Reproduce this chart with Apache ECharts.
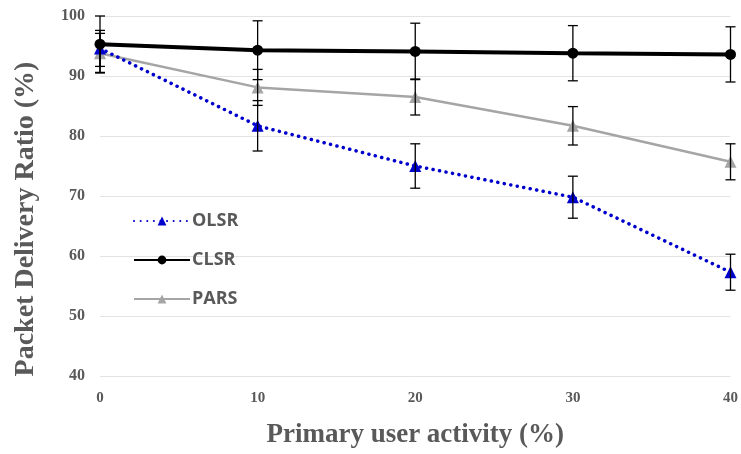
<!DOCTYPE html>
<html>
<head>
<meta charset="utf-8">
<script src="https://cdn.jsdelivr.net/npm/echarts@6/dist/echarts.min.js"></script>
<style>html,body{margin:0;padding:0;background:#fff;}#c{width:741px;height:454px;}</style>
</head>
<body>
<div id="c"></div>
<script>
var xValues = [0, 10, 20, 30, 40];
var olsr = [94.6, 81.7, 75.0, 69.8, 57.3];
var olsrErr = [3.0, 4.2, 3.7, 3.5, 3.0];
var clsr = [95.3, 94.3, 94.1, 93.8, 93.6];
var clsrErr = [4.7, 4.9, 4.7, 4.6, 4.6];
var pars = [93.8, 88.1, 86.5, 81.7, 75.7];
var parsErr = [3.3, 3.0, 3.0, 3.2, 3.0];
var yTicks = [40, 50, 60, 70, 80, 90, 100];
var xTicks = [0, 10, 20, 30, 40];

function pairs(vals) { return xValues.map(function (x, i) { return [x, vals[i]]; }); }
function errData(vals, errs) { return xValues.map(function (x, i) { return [x, vals[i] - errs[i], vals[i] + errs[i]]; }); }

function errRender(params, api) {
  var x = api.value(0);
  var lo = api.coord([x, api.value(1)]);
  var hi = api.coord([x, api.value(2)]);
  var w = 5;
  var st = { stroke: '#000', lineWidth: 1.3, fill: null };
  return {
    type: 'group',
    children: [
      { type: 'line', shape: { x1: hi[0], y1: hi[1], x2: lo[0], y2: lo[1] }, style: st },
      { type: 'line', shape: { x1: hi[0] - w, y1: hi[1], x2: hi[0] + w, y2: hi[1] }, style: st },
      { type: 'line', shape: { x1: lo[0] - w, y1: lo[1], x2: lo[0] + w, y2: lo[1] }, style: st }
    ]
  };
}

var chart = echarts.init(document.getElementById('c'));
var serif = '"Liberation Serif", "Times New Roman", serif';
chart.setOption({
  animation: false,
  backgroundColor: '#fff',
  grid: { left: 100, right: 10, top: 16, bottom: 76 },
  legend: {
    orient: 'vertical',
    left: 128,
    top: 207,
    itemWidth: 56,
    itemHeight: 11,
    itemGap: 21,
    data: ['OLSR', 'CLSR', 'PARS'],
    textStyle: { fontFamily: '"Open Sans", "Liberation Sans", sans-serif', fontWeight: 'bold', fontSize: 18, lineHeight: 18, color: '#595959', padding: [0, 0, 0, -3] }
  },
  xAxis: {
    type: 'value', min: 0, max: 40, interval: 10,
    name: 'Primary user activity (%)', nameLocation: 'middle', nameGap: 46,
    nameTextStyle: { fontFamily: serif, fontWeight: 'bold', fontSize: 27, color: '#595959' },
    axisLine: { show: false }, axisTick: { show: false }, splitLine: { show: false },
    axisLabel: { fontFamily: serif, fontWeight: 'bold', fontSize: 15, color: '#595959', margin: 15,
      formatter: function (v) { return xTicks.indexOf(v) >= 0 ? String(v) : ''; } }
  },
  yAxis: {
    type: 'value', min: 40, max: 100, interval: 10,
    name: 'Packet Delivery Ratio (%)', nameLocation: 'middle', nameGap: 60,
    nameTextStyle: { fontFamily: serif, fontWeight: 'bold', fontSize: 28, color: '#595959', padding: [0, 46, 0, 0] },
    axisLine: { show: false }, axisTick: { show: false },
    splitLine: { lineStyle: { color: '#e3e3e3', width: 1 } },
    axisLabel: { fontFamily: serif, fontWeight: 'bold', fontSize: 16, color: '#595959', margin: 15,
      formatter: function (v) { return yTicks.indexOf(v) >= 0 ? String(v) : ''; } }
  },
  series: [
    { name: 'PARS', type: 'line', data: pairs(pars), symbol: 'triangle', symbolSize: 12,
      lineStyle: { color: '#a5a5a5', width: 2.5 }, itemStyle: { color: '#a5a5a5' }, z: 2 },
    { name: 'OLSR', type: 'line', data: pairs(olsr), symbol: 'triangle', symbolSize: 12,
      lineStyle: { color: '#0000cc', width: 3.5, type: [0.1, 6.5], cap: 'round' }, itemStyle: { color: '#0000cc' }, z: 3 },
    { name: 'CLSR', type: 'line', data: pairs(clsr), symbol: 'circle', symbolSize: 11,
      lineStyle: { color: '#000', width: 4 }, itemStyle: { color: '#000' }, z: 4 },
    { type: 'custom', renderItem: errRender, data: errData(pars, parsErr), z: 5, silent: true },
    { type: 'custom', renderItem: errRender, data: errData(olsr, olsrErr), z: 5, silent: true },
    { type: 'custom', renderItem: errRender, data: errData(clsr, clsrErr), z: 5, silent: true }
  ]
});
</script>
</body>
</html>
